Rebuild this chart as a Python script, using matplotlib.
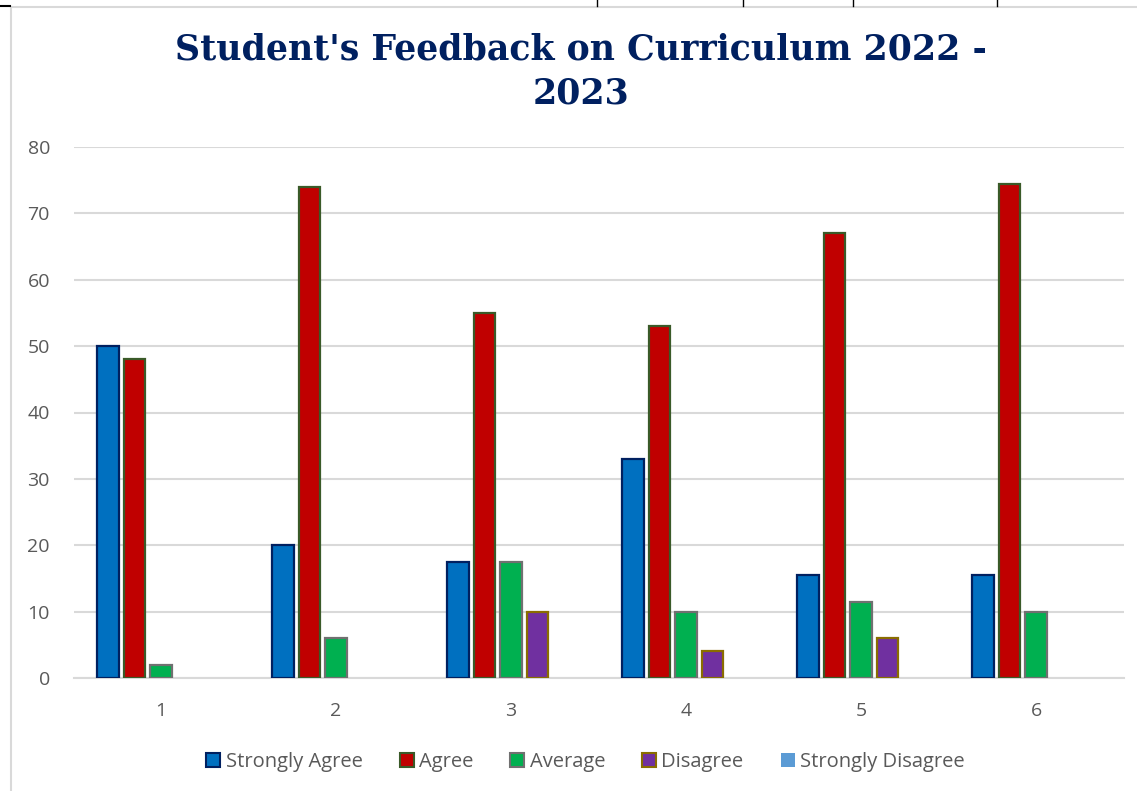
import matplotlib
matplotlib.use("Agg")
import matplotlib.pyplot as plt
from matplotlib.lines import Line2D
import numpy as np

categories = ["1", "2", "3", "4", "5", "6"]
series_names = ["Strongly Agree", "Agree", "Average", "Disagree", "Strongly Disagree"]
strongly_agree = [50, 20, 17.5, 33, 15.5, 15.5]
agree = [48, 74, 55, 53, 67, 74.5]
average = [2, 6, 17.5, 10, 11.5, 10]
disagree = [0, 0, 10, 4, 6, 0]
strongly_disagree = [0, 0, 0, 0, 0, 0]
y_ticks = [0, 10, 20, 30, 40, 50, 60, 70, 80]

values = [strongly_agree, agree, average, disagree, strongly_disagree]
fills = ["#0070C0", "#C00000", "#00B050", "#7030A0", "#5B9BD5"]
edges = ["#002060", "#3A5A28", "#707070", "#8A6D00", "none"]

W, H = 1137, 791
fig = plt.figure(figsize=(W / 100, H / 100), dpi=100)
ax = fig.add_axes([73.5 / W, 1 - 678 / H, (1123.5 - 73.5) / W, (678 - 147) / H])

x = np.arange(1, len(categories) + 1)
pitch = 0.151
width = 0.124
for i, (vals, fc, ec) in enumerate(zip(values, fills, edges)):
    xs = x + (i - 2) * pitch
    heights = np.array(vals, dtype=float)
    mask = heights > 0
    ax.bar(xs[mask], heights[mask], width=width, color=fc,
           edgecolor=ec if ec != "none" else fc,
           linewidth=1.6 if ec != "none" else 0, zorder=3)

ax.set_xlim(0.5, 6.5)
ax.set_ylim(0, 80)
ax.set_yticks(y_ticks)
ax.set_xticks(x)
ax.set_xticklabels(categories)
ax.yaxis.grid(True, color="#D9D9D9", linewidth=1.5, zorder=0)
ax.set_axisbelow(True)
for s in ["left", "right", "top"]:
    ax.spines[s].set_visible(False)
ax.spines["bottom"].set_color("#D9D9D9")
ax.spines["bottom"].set_linewidth(1.5)
ax.tick_params(axis="both", length=0, labelsize=14, colors="#595959",
               labelfontfamily="Open Sans")
ax.tick_params(axis="y", pad=17)
ax.tick_params(axis="x", pad=17)

# legend
handles = []
for fc, ec in zip(fills, edges):
    handles.append(Line2D([0], [0], marker="s", linestyle="none", markersize=10,
                          markerfacecolor=fc,
                          markeredgecolor=ec if ec != "none" else fc,
                          markeredgewidth=1.5 if ec != "none" else 0))
leg = fig.legend(handles, series_names, loc="center", bbox_to_anchor=(586 / W, 1 - 762 / H),
                 ncol=5, frameon=False, handlelength=0.6, handletextpad=0.3,
                 columnspacing=1.9, prop={"family": "Open Sans", "size": 14.5})
for t in leg.get_texts():
    t.set_color("#595959")

# title
fig.text(581 / W, 1 - 50 / H, "Student's Feedback on Curriculum 2022 -", ha="center", va="center",
         fontsize=25, fontweight="bold", family="DejaVu Serif", color="#002060")
fig.text(581 / W, 1 - 94 / H, "2023", ha="center", va="center",
         fontsize=25, fontweight="bold", family="DejaVu Serif", color="#002060")

# chart frame (left and top edges visible)
fig.add_artist(Line2D([10.5 / W, 10.5 / W], [0, 1 - 7 / H], transform=fig.transFigure,
                      color="#D9D9D9", linewidth=1.5))
fig.add_artist(Line2D([10.5 / W, 1], [1 - 7 / H, 1 - 7 / H], transform=fig.transFigure,
                      color="#D9D9D9", linewidth=1.5))
fig.add_artist(Line2D([0, 10 / W], [1 - 6 / H, 1 - 6 / H], transform=fig.transFigure,
                      color="black", linewidth=1.5))
for px in [597, 743, 853, 997]:
    fig.add_artist(Line2D([px / W, px / W], [1 - 6 / H, 1], transform=fig.transFigure,
                          color="black", linewidth=1))

fig.savefig("out.png", dpi=100)
